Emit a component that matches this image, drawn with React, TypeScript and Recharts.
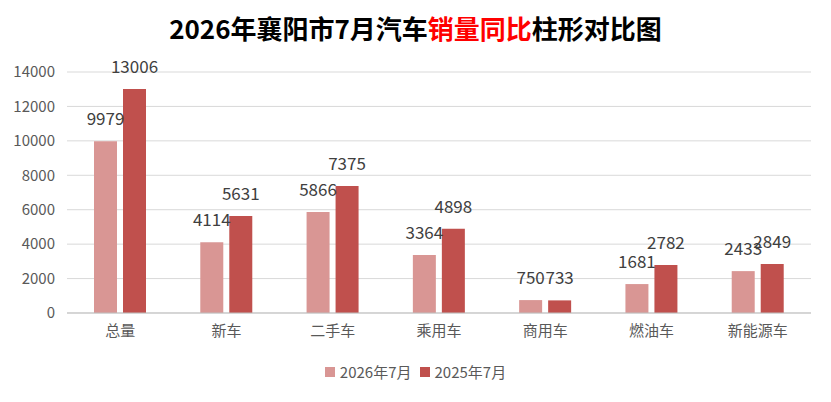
import React from "react";
import { BarChart, Bar, XAxis, YAxis, CartesianGrid, LabelList } from "recharts";

const categories = ["总量", "新车", "二手车", "乘用车", "商用车", "燃油车", "新能源车"];
const values2026 = [9979, 4114, 5866, 3364, 750, 1681, 2433];
const values2025 = [13006, 5631, 7375, 4898, 733, 2782, 2849];
const yTicks = [0, 2000, 4000, 6000, 8000, 10000, 12000, 14000];
const seriesNames = ["2026年7月", "2025年7月"];
const colors = ["#D99694", "#C0504D"];

const data = categories.map((c, i) => ({ name: c, a: values2026[i], b: values2025[i] }));

const FONT = "'Noto Sans CJK SC', 'Noto Sans', sans-serif";

export default function App() {
  return (
    <div style={{ position: "absolute", left: 0, top: 0, width: 831, height: 402, background: "#fff", fontFamily: FONT }}>
      <div style={{ position: "absolute", left: 0, top: 6, width: 831, textAlign: "center", fontSize: 26, fontWeight: 700, color: "#000", lineHeight: "44px" }}>
        2026年襄阳市7月汽车<span style={{ color: "#FF0000" }}>销量同比</span>柱形对比图
      </div>
      <BarChart
        width={831}
        height={402}
        data={data}
        margin={{ top: 72, right: 20, bottom: 59, left: 0 }}
        barGap={6}
        barSize={23}
      >
        <CartesianGrid vertical={false} stroke="#D9D9D9" />
        <XAxis
          dataKey="name"
          height={30}
          tickLine={false}
          tickSize={0}
          tickMargin={12}
          axisLine={{ stroke: "#BFBFBF" }}
          tick={{ fontSize: 15, fill: "#595959", fontFamily: FONT }}
          interval={0}
        />
        <YAxis
          width={67}
          domain={[0, 14000]}
          ticks={yTicks}
          axisLine={false}
          tickLine={false}
          tickSize={0}
          tickMargin={12}
          tick={{ fontSize: 15, fill: "#595959", fontFamily: FONT }}
        />
        <Bar dataKey="a" name={seriesNames[0]} fill={colors[0]} isAnimationActive={false}>
          <LabelList dataKey="a" position="top" offset={16} style={{ fontSize: 17, fill: "#404040", fontFamily: FONT }} />
        </Bar>
        <Bar dataKey="b" name={seriesNames[1]} fill={colors[1]} isAnimationActive={false}>
          <LabelList dataKey="b" position="top" offset={16} style={{ fontSize: 17, fill: "#404040", fontFamily: FONT }} />
        </Bar>
      </BarChart>
      <div style={{ position: "absolute", left: 0, top: 361, width: 831, display: "flex", justifyContent: "center", alignItems: "center", fontSize: 15, color: "#595959" }}>
        {seriesNames.map((n, i) => (
          <div key={n} style={{ display: "flex", alignItems: "center", marginRight: i === 0 ? 8 : 0 }}>
            <span style={{ display: "inline-block", width: 10, height: 10, background: colors[i], marginRight: 5 }} />
            <span>{n}</span>
          </div>
        ))}
      </div>
    </div>
  );
}
